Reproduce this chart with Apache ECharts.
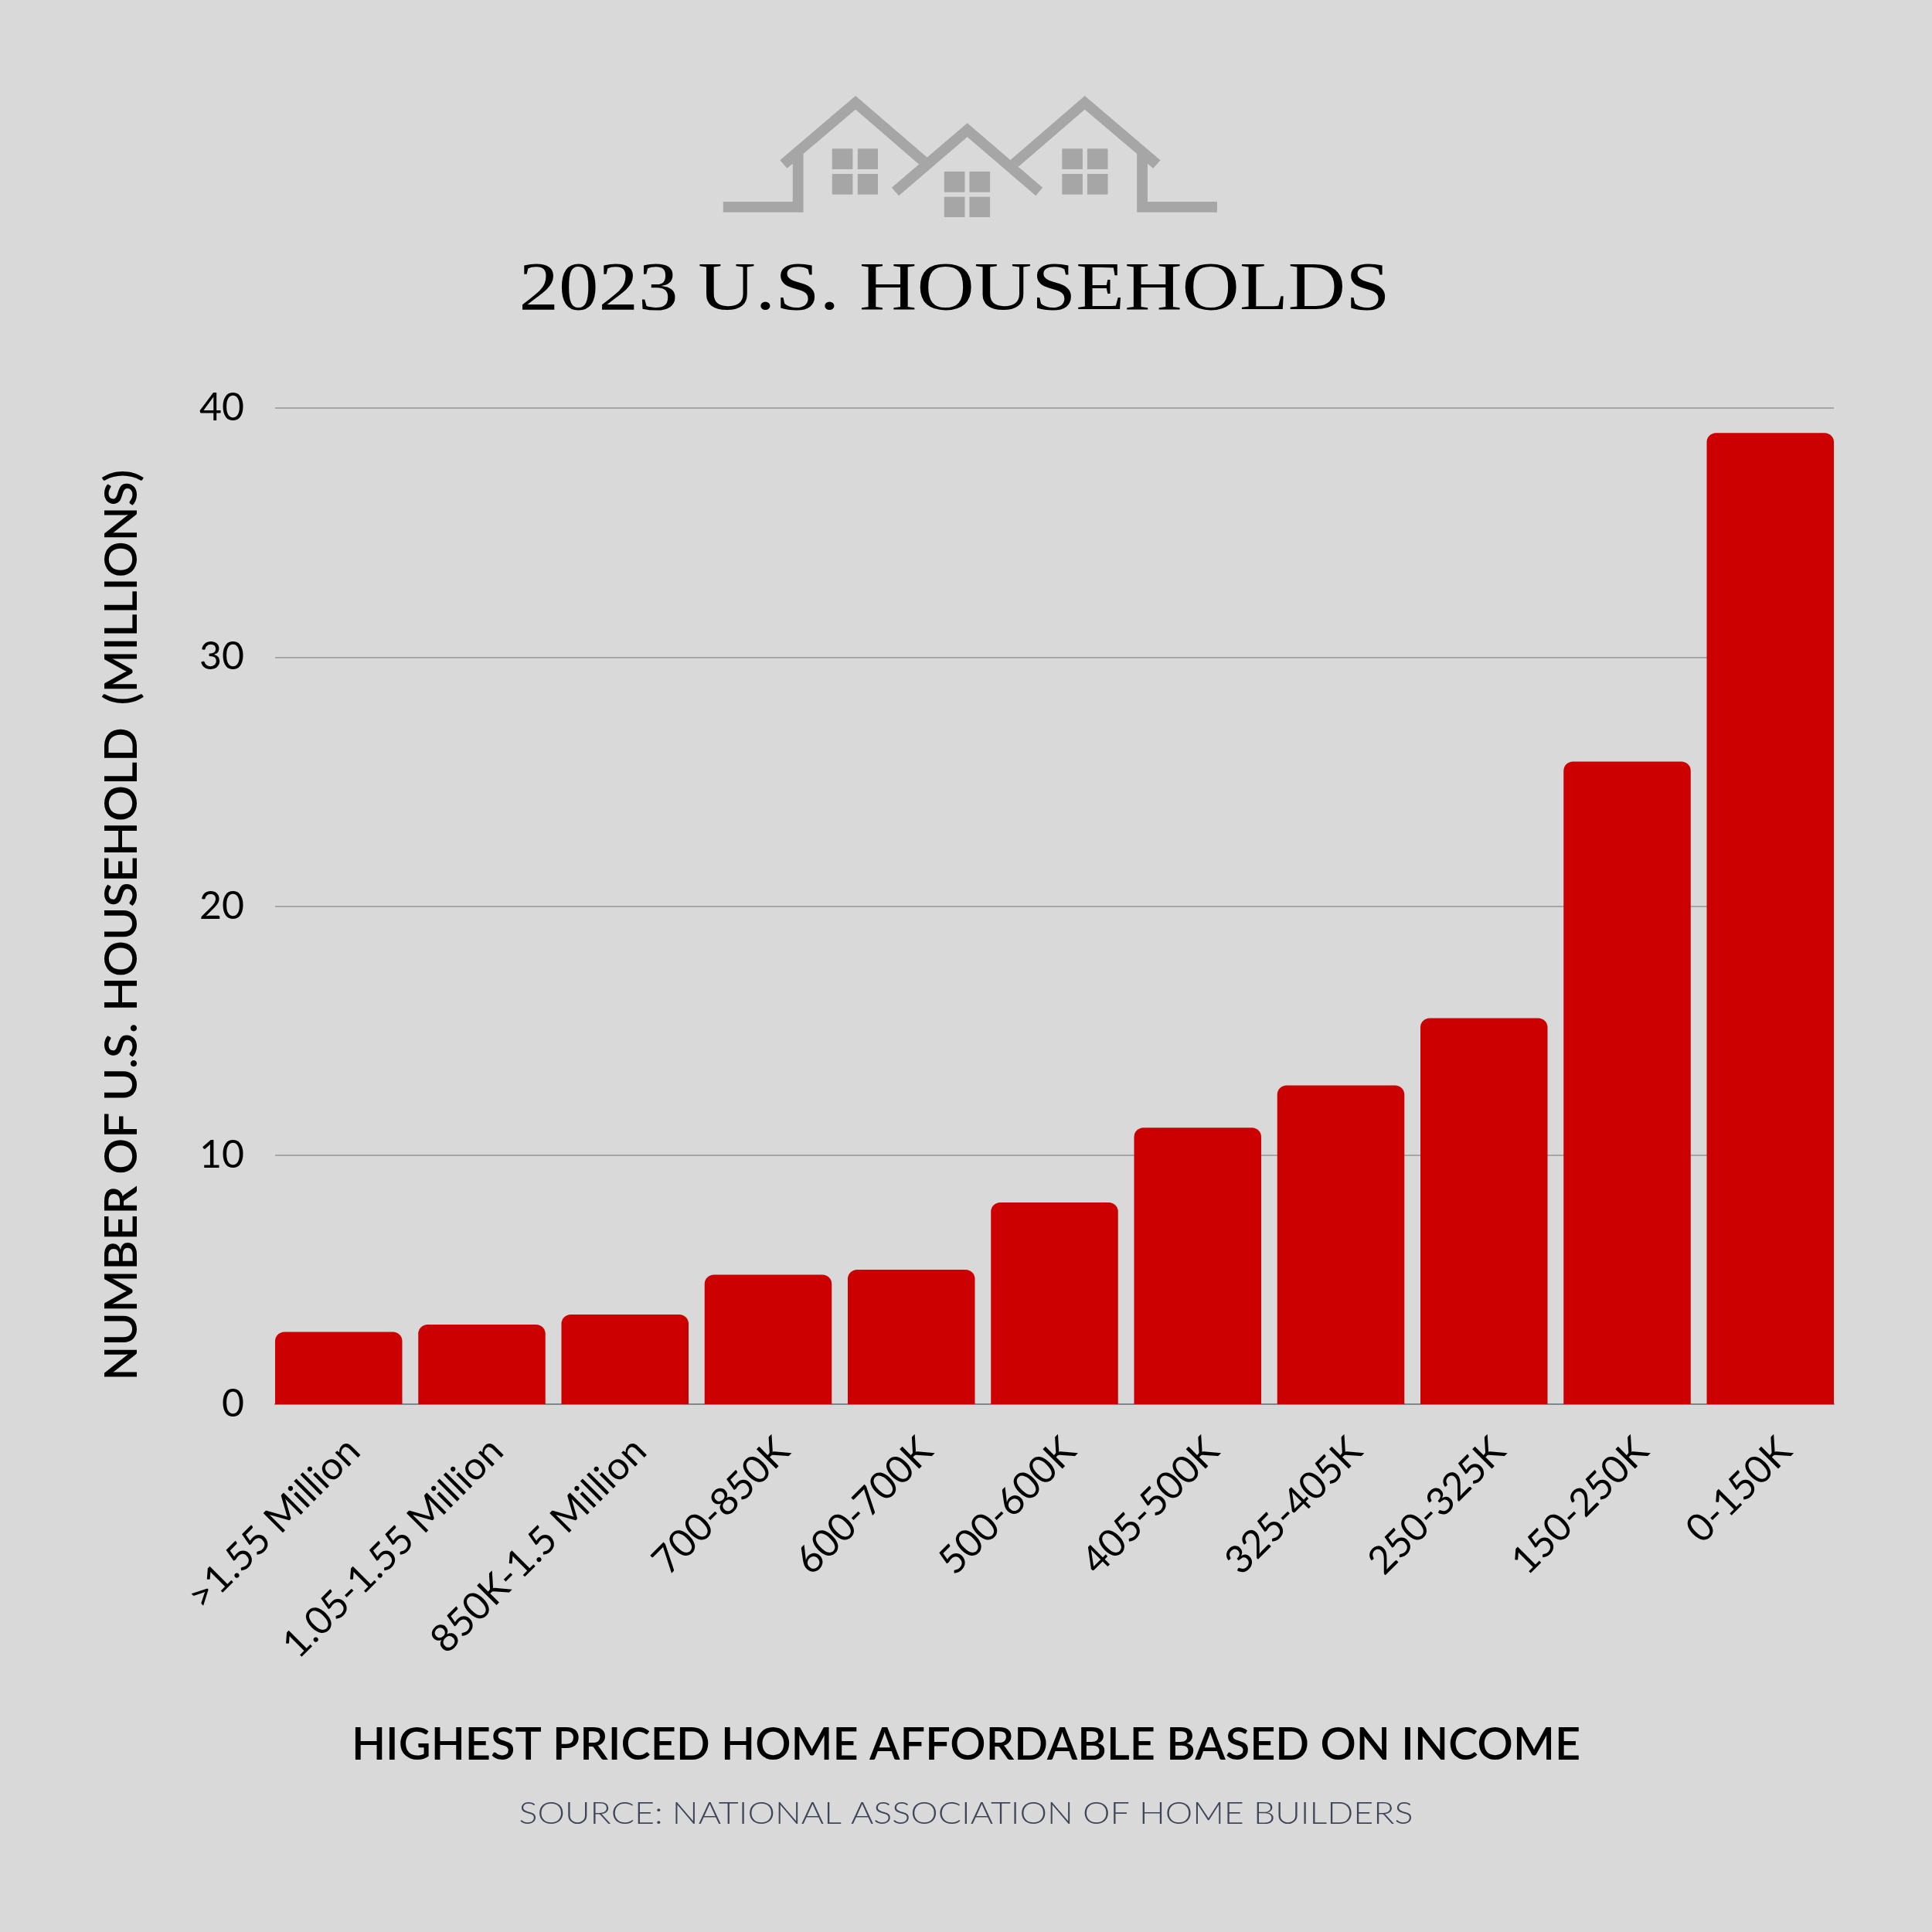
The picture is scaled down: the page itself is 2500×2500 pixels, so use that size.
<!DOCTYPE html>
<html>
<head>
<meta charset="utf-8">
<style>
html,body{margin:0;padding:0;background:#d9d9d9}
#chart{width:2500px;height:2500px}
</style>
<script src="https://cdn.jsdelivr.net/npm/echarts@6/dist/echarts.min.js"></script>
</head>
<body>
<div id="chart"></div>
<script>
const categories = ['>1.55 Million','1.05-1.55 Million','850K-1.5 Million','700-850K','600-700K','500-600K','405-500K','325-405K','250-325K','150-250K','0-150K']
const households = [2.9,3.2,3.6,5.2,5.4,8.1,11.1,12.8,15.5,25.8,39.0]
const yTicks = [0,10,20,30,40]

const BG = '#d9d9d9'
const GREY = '#a6a6a6'
const RED = '#cc0000'
const SANS = 'Lato'

const logoX = x => 900 + x / 2.178
const logoY = y => 100 + y / 3
const poly = pts => ({
    type:'polygon',
    shape:{points:pts.map(p => [logoX(p[0]),logoY(p[1])])},
    style:{fill:GREY}
})
const win = (x0,x1,y0,y1) => poly([[x0,y0],[x1,y0],[x1,y1],[x0,y1]])
const leftHouse = [[78,483],[274,483],[274,335],[258,353],[238,322],[451,72],[653,311],[630,338],[451,125],[304,297],[304,524],[78,524]]
const rightHouse = [[1470,483],[1274,483],[1274,335],[1290,353],[1310,322],[1097,72],[887,322],[910,347],[1097,125],[1244,297],[1244,524],[1470,524]]
const midHouse = [[553,428],[766,178],[978,428],[959,460],[766,232],[573,460]]
const logo = [poly(leftHouse),poly(rightHouse),poly(midHouse)]
;[[385,443,457,514,277,357,375,455],[701,759,772,830,366,446,464,543],[1033,1091,1104,1162,277,357,375,455]].forEach(w => {
    logo.push(win(w[0],w[1],w[4],w[5]),win(w[2],w[3],w[4],w[5]),win(w[0],w[1],w[6],w[7]),win(w[2],w[3],w[6],w[7]))
})

const label = (text,x,y,font,fill,extra) => Object.assign({
    type:'text',
    x:x,
    y:y,
    style:{text:text,font:font,fill:fill,align:'center',verticalAlign:'middle'}
},extra || {})

const chart = echarts.init(document.getElementById('chart'),null,{renderer:'canvas'})
chart.setOption({
    animation:false,
    backgroundColor:BG,
    grid:[
        {left:345.6,width:2037.8,top:528,height:1289},
        {left:356,width:2017,top:528,height:1289},
        // labels sit a little right of the bar centres
        {left:364.6,width:2037.8,top:528,height:1289}
    ],
    xAxis:[
        {
            type:'category',
            gridIndex:0,
            data:categories,
            axisLine:{show:false},
            axisTick:{show:false},
            axisLabel:{show:false}
        },
        {
            type:'category',
            gridIndex:1,
            data:[],
            axisLine:{show:true,lineStyle:{color:'#7f8888',width:2}},
            axisTick:{show:false},
            axisLabel:{show:false}
        },
        {
            type:'category',
            gridIndex:2,
            data:categories,
            axisLine:{show:false},
            axisTick:{show:false},
            axisLabel:{
                interval:0,
                rotate:45,
                margin:52,
                fontFamily:SANS,
                fontWeight:400,
                fontSize:50,
                color:'#000'
            }
        }
    ],
    yAxis:[
        {type:'value',gridIndex:0,min:0,max:40,interval:10,show:false},
        {
            type:'value',
            gridIndex:1,
            min:yTicks[0],
            max:yTicks[yTicks.length - 1],
            interval:10,
            axisLine:{show:false},
            axisTick:{show:false},
            axisLabel:{
                margin:40,
                fontFamily:SANS,
                fontWeight:400,
                fontSize:50,
                color:'#000'
            },
            splitLine:{show:true,lineStyle:{color:GREY,width:2}}
        },
        {type:'value',gridIndex:2,min:0,max:40,interval:10,show:false}
    ],
    series:[
        {
            type:'bar',
            xAxisIndex:0,
            yAxisIndex:0,
            data:households,
            barCategoryGap:'11.2%',
            itemStyle:{color:RED,borderRadius:[12,12,0,0]}
        }
    ],
    graphic:logo.concat([
        label('2023 U.S. HOUSEHOLDS',1235,377,'88px "Liberation Serif"','#000',{scaleX:1.17}),
        label('NUMBER OF U.S. HOUSEHOLD  (MILLIONS)',158,1197,'600 58.5px '+SANS,'#000',{rotation:Math.PI/2}),
        label('HIGHEST PRICED HOME AFFORDABLE BASED ON INCOME',1250,2258,'600 57.6px '+SANS,'#000'),
        label('SOURCE: NATIONAL ASSOCIATION OF HOME BUILDERS',1250,2347,'300 40px '+SANS,'#3d4658',{scaleX:1.12})
    ])
})
</script>
</body>
</html>
